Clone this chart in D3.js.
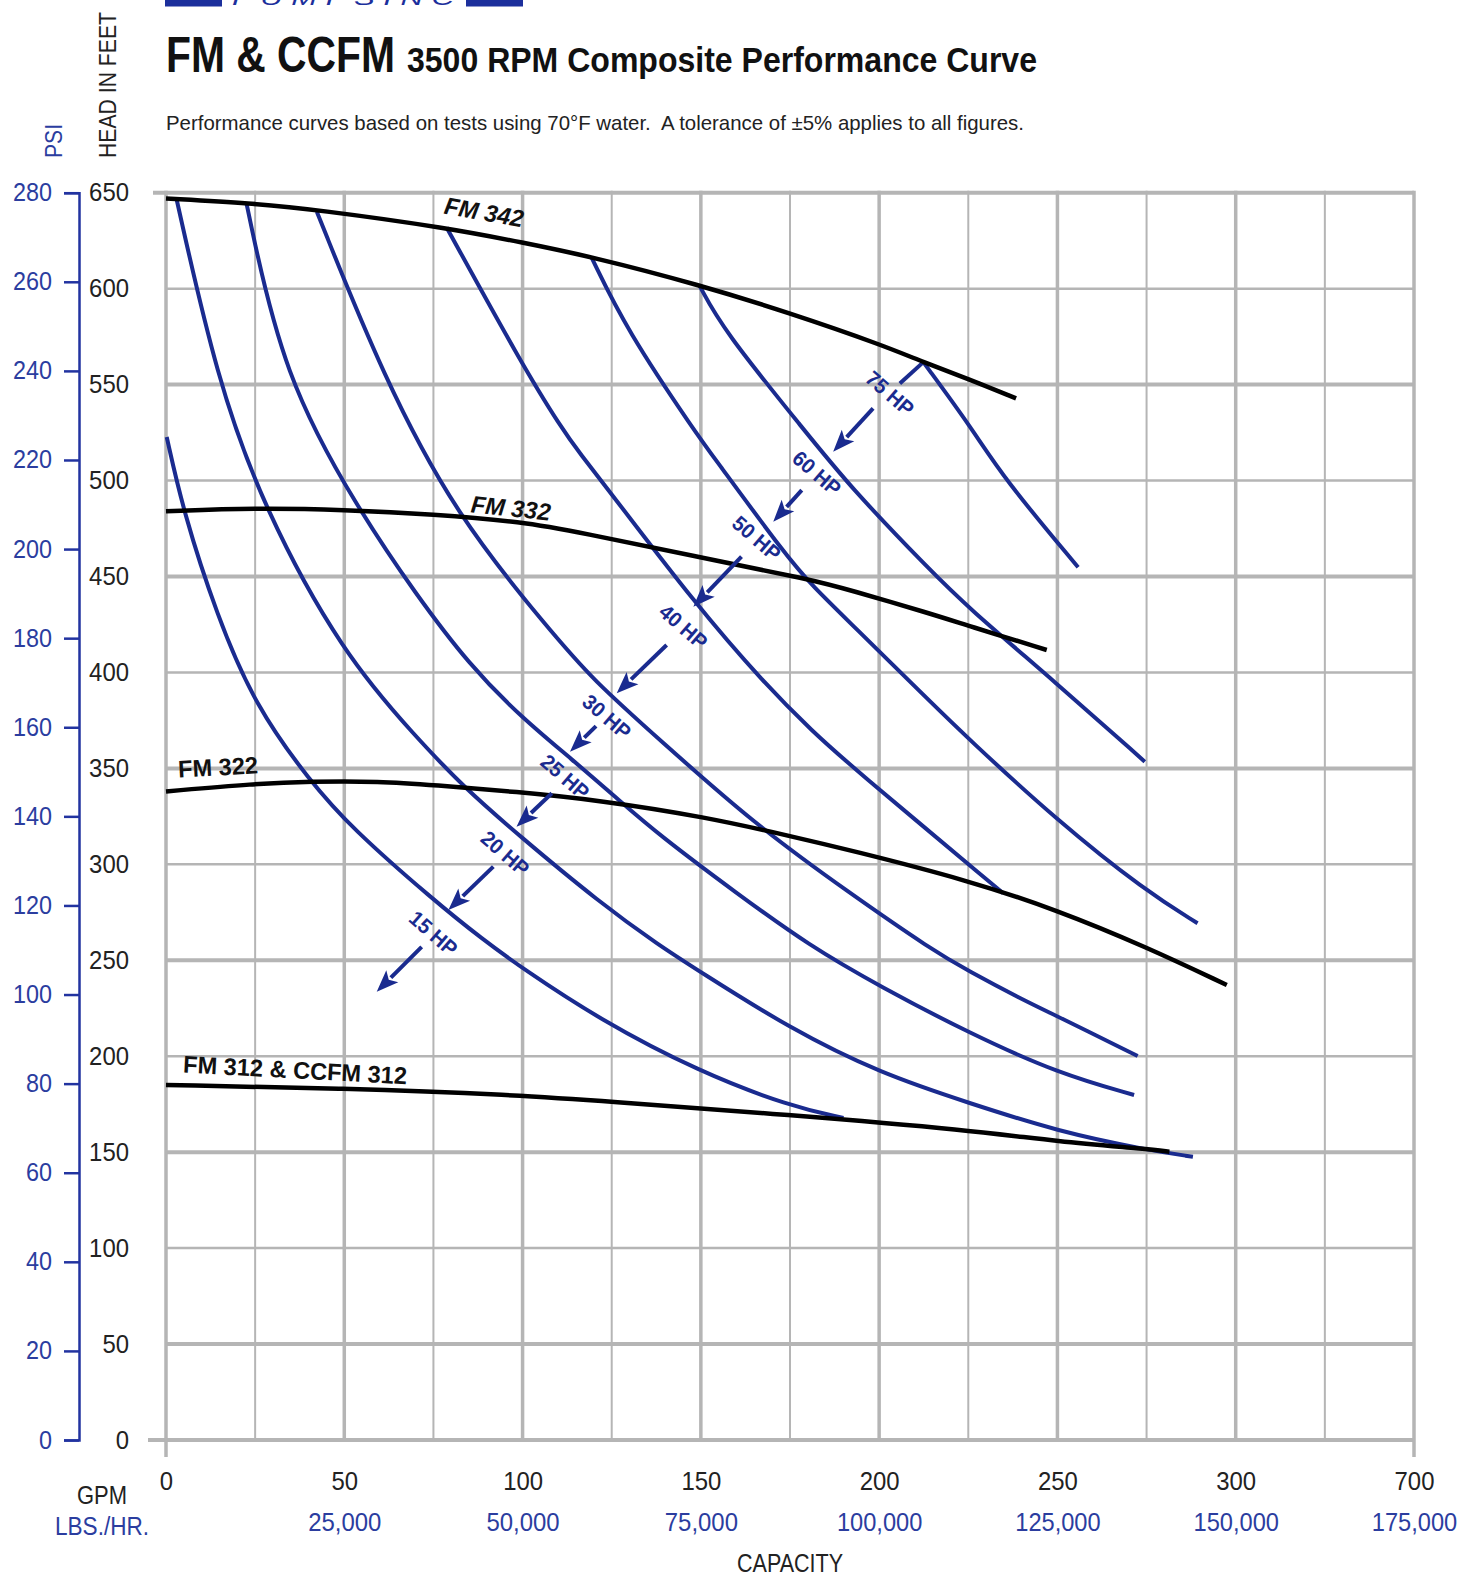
<!DOCTYPE html>
<html><head><meta charset="utf-8">
<script src="https://cdn.jsdelivr.net/npm/d3@7/dist/d3.min.js"></script>
<style>
body{margin:0;background:#fff;}
svg{display:block;}
</style></head><body>
<svg id="c" width="1473" height="1578"></svg>
<script>
// ---------------- data ----------------
const gpmTicks = [0, 50, 100, 150, 200, 250, 300, 350];
const gpmLabels = ["0", "50", "100", "150", "200", "250", "300", "700"];
const lbsTicks = [50, 100, 150, 200, 250, 300, 350];
const lbsLabels = ["25,000", "50,000", "75,000", "100,000", "125,000", "150,000", "175,000"];
const headTicks = [0, 50, 100, 150, 200, 250, 300, 350, 400, 450, 500, 550, 600, 650];
const psiTicks = [0, 20, 40, 60, 80, 100, 120, 140, 160, 180, 200, 220, 240, 260, 280];

// impeller curves  [GPM, head ft]
const impellerNames = ["FM 342", "FM 332", "FM 322", "FM 312 & CCFM 312"];
const fm342 = [[0,647],[24,644.5],[42,641.2],[79.5,631.5],[100,624],[119.5,616.6],[149.5,602],[174.6,587.5],[200.9,570.6],[212.4,561.7],[225,553],[238.4,542.8]];
const fm332 = [[0,484],[25,485.7],[49.8,484.8],[75,482.5],[100,478.5],[116,473],[148.8,460.3],[181.5,448.2],[191.8,442.9],[214.2,430.8],[224.7,424.5],[247,411.7]];
const fm322 = [[0,338],[25,342],[40.4,343.2],[60,343.3],[75,341.3],[98.3,337.8],[121.7,333.3],[151,324.8],[176.3,314.2],[191.8,307.4],[224.7,291.8],[249.8,276.2],[274.8,257],[297.5,237.1]];
const fm312 = [[0,185],[49.7,183.3],[98.3,179.8],[121.7,176.8],[174.9,169.4],[225.4,161.5],[250.3,155.4],[275.3,151.6],[281.4,150.2]];

// horsepower curves [GPM, head ft]
const hpNames = ["75 HP", "60 HP", "50 HP", "40 HP", "30 HP", "25 HP", "20 HP", "15 HP"];
const hp75 = [[212.4,561.7],[225.9,527.5],[234.8,501.5],[255.8,454.8]];
const hp60 = [[149.5,602],[156.3,578.4],[179,526.3],[191.8,496.8],[214.2,453.4],[224.7,434.2],[249.8,394.3],[274.5,353.5]];
const hp50 = [[119.4,616],[129.2,578.4],[148.9,524],[153.5,512.5],[174.1,460.3],[181.5,444.7],[191.8,426],[214.2,385],[224.7,366],[249.8,323],[274.8,286],[289.3,269.3]];
const hp40 = [[78.7,631.9],[100,560],[110.7,528],[116.1,514],[125.4,492],[147.9,437],[167.9,394],[181.5,369],[191.8,351.7],[234.8,284.9]];
const hp30 = [[42.3,640.1],[61,553.6],[81.5,481.5],[107.7,421.8],[119.8,396],[138.5,364.8],[165,321],[191.8,284.9],[214.9,255.3],[225,244.5],[240.4,229.3],[250.3,220.6],[272.5,200.1]];
const hp25 = [[22.6,644.2],[32.9,553.6],[54.4,483.6],[70,441],[85,404],[100,376],[113.7,355],[127.3,333],[138.5,315],[160,285],[180.5,257.5],[200.4,236.2],[225.4,211.9],[250.3,191],[271.5,179.8]];
const hp20 = [[3,646.3],[14.2,553.6],[27.3,485.7],[49.7,409.4],[70.3,366],[83.4,340.4],[99,315],[121.7,280],[138.5,257.5],[149.4,244.5],[174.9,214.5],[200.4,191],[225.4,175.5],[250.3,160.7],[275.3,151.1],[288,147.6]];
const hp15 = [[0.2,522.7],[4.9,483.6],[14.2,430],[25,382.6],[40.4,343.3],[52,319],[75,281.4],[89,260.6],[99.8,246],[121.7,219],[149.4,192],[174.9,174],[190,167.8]];

// annotations (data units)
const impLabelAt = [[89.2,639.9],[96.7,485.7],[14.6,350.7],[36.2,192.8]];
const impLabelAngle = [10, 6, -3, 3];
const hpTextAt = [[203,545.4],[182.5,503.8],[165.6,469.9],[145.1,423.8],[123.6,376.9],[111.9,345.6],[95.1,305.7],[75,264]];
const hpArrowFrom = [[198.3,537.6],[178.3,495],[161.4,460.3],[140.4,414.3],[120.6,372],[108.2,337],[91.8,298.8],[71.7,257]];
const hpArrowTo = [[187.1,515],[170.3,478.5],[147.9,434.2],[126.4,389.1],[113.3,358.7],[98.3,319.6],[79.2,276.2],[59.1,233.6]];
const hp75Connector = [[212.4,561.7],[205.8,550.6]];

// ---------------- drawing ----------------
const NARROW = "'Liberation Sans Narrow','Arial Narrow','Liberation Sans',Arial,sans-serif";
const BLUE = "#1a2b8f";
const BLUE_TXT = "#2b3d9f";
const GRID = "#b5b5b5";

const svg = d3.select("#c");
svg.append("rect").attr("width", 1473).attr("height", 1578).attr("fill", "#fff");

const x = d3.scaleLinear().domain([0, 350]).range([166, 1414]);
const y = d3.scaleLinear().domain([0, 650]).range([1440, 192.7]);
const yPsi = d3.scaleLinear().domain([0, 280]).range([1440, 192.7]);

// logo fragment at top
svg.append("rect").attr("x", 165).attr("y", -12).attr("width", 57).attr("height", 18.5).attr("fill", "#1c2f9c");
svg.append("rect").attr("x", 466).attr("y", -12).attr("width", 57).attr("height", 18.5).attr("fill", "#1c2f9c");
svg.append("text").attr("x", 232).attr("y", 5).attr("textLength", 222).attr("lengthAdjust", "spacingAndGlyphs")
  .style("font", "italic 20px " + NARROW).attr("fill", "#1c2f9c").text("P U M P S   I N C");

// title
svg.append("text").attr("x", 166).attr("y", 72).attr("textLength", 229).attr("lengthAdjust", "spacingAndGlyphs")
  .style("font", "bold 50px " + NARROW).attr("fill", "#111").text("FM & CCFM");
svg.append("text").attr("x", 407).attr("y", 72).attr("textLength", 630).attr("lengthAdjust", "spacingAndGlyphs")
  .style("font", "bold 35px " + NARROW).attr("fill", "#111").text("3500 RPM Composite Performance Curve");
svg.append("text").attr("x", 166).attr("y", 130).attr("textLength", 858).attr("lengthAdjust", "spacingAndGlyphs")
  .style("font", "21px " + NARROW).style("white-space", "pre").attr("fill", "#222")
  .text("Performance curves based on tests using 70°F water.  A tolerance of ±5% applies to all figures.");

// vertical axis titles
svg.append("text").attr("transform", "translate(116,158) rotate(-90)").attr("textLength", 146).attr("lengthAdjust", "spacingAndGlyphs")
  .style("font", "23px " + NARROW).attr("fill", "#222").text("HEAD IN FEET");
svg.append("text").attr("transform", "translate(62,158) rotate(-90)").attr("textLength", 34).attr("lengthAdjust", "spacingAndGlyphs")
  .style("font", "23px " + NARROW).attr("fill", BLUE_TXT).text("PSI");

// grid
const gridX = d3.range(0, 351, 25);
const gridY = d3.range(0, 651, 50);
const grid = svg.append("g");
grid.selectAll("line.h").data(gridY).join("line").attr("class", "h")
  .attr("x1", d => d === 0 ? x(0) - 18 : (d === 650 ? x(0) - 13 : x(0)))
  .attr("x2", x(350))
  .attr("y1", d => y(d)).attr("y2", d => y(d))
  .attr("stroke", GRID).attr("stroke-width", d => (d === 0 || d % 100 === 50) ? 4 : 2.5);
grid.selectAll("line.v").data(gridX).join("line").attr("class", "v")
  .attr("x1", d => x(d)).attr("x2", d => x(d))
  .attr("y1", y(650) - 2).attr("y2", d => (d === 0 || d === 350) ? y(0) + 17 : y(0))
  .attr("stroke", GRID).attr("stroke-width", d => d % 50 === 0 ? 3.5 : 2);

// PSI axis
const psiAxis = d3.axisLeft(yPsi).tickValues(psiTicks).tickSize(15).tickPadding(12);
const gPsi = svg.append("g").attr("transform", "translate(79,0)").call(psiAxis);
gPsi.select(".domain").attr("stroke", "#2233a0").attr("stroke-width", 2.5);
gPsi.selectAll(".tick line").attr("stroke", "#2233a0").attr("stroke-width", 2.5);
gPsi.selectAll(".tick text").attr("fill", BLUE_TXT).style("font", "25px " + NARROW)
  .attr("textLength", d => String(d).length * 13).attr("lengthAdjust", "spacingAndGlyphs");

// head axis (labels only)
const headAxis = d3.axisLeft(y).tickValues(headTicks).tickSize(0).tickPadding(0);
const gHead = svg.append("g").attr("transform", "translate(129,0)").call(headAxis);
gHead.select(".domain").remove();
gHead.selectAll(".tick text").attr("fill", "#222").style("font", "25px " + NARROW)
  .attr("textLength", d => String(d).length * 13.3).attr("lengthAdjust", "spacingAndGlyphs");

// GPM axis labels
const gpmAxis = d3.axisBottom(x).tickValues(gpmTicks).tickFormat((d, i) => gpmLabels[i]).tickSize(0).tickPadding(32);
const gGpm = svg.append("g").attr("transform", "translate(0,1440)").call(gpmAxis);
gGpm.select(".domain").remove();
gGpm.selectAll(".tick text").attr("fill", "#222").style("font", "25px " + NARROW)
  .attr("textLength", (d, i) => gpmLabels[i].length * 13.3).attr("lengthAdjust", "spacingAndGlyphs");

// LBS/HR axis labels
const lbsAxis = d3.axisBottom(x).tickValues(lbsTicks).tickFormat((d, i) => lbsLabels[i]).tickSize(0).tickPadding(73);
const gLbs = svg.append("g").attr("transform", "translate(0,1440)").call(lbsAxis);
gLbs.select(".domain").remove();
gLbs.selectAll(".tick text").attr("fill", BLUE_TXT).style("font", "25px " + NARROW)
  .attr("textLength", (d, i) => lbsLabels[i].length * 12.2).attr("lengthAdjust", "spacingAndGlyphs");

svg.append("text").attr("x", 102).attr("y", 1504).attr("text-anchor", "middle")
  .attr("textLength", 50).attr("lengthAdjust", "spacingAndGlyphs")
  .style("font", "25px " + NARROW).attr("fill", "#222").text("GPM");
svg.append("text").attr("x", 102).attr("y", 1535).attr("text-anchor", "middle")
  .attr("textLength", 94).attr("lengthAdjust", "spacingAndGlyphs")
  .style("font", "25px " + NARROW).attr("fill", BLUE_TXT).text("LBS./HR.");
svg.append("text").attr("x", 790).attr("y", 1572).attr("text-anchor", "middle")
  .attr("textLength", 106).attr("lengthAdjust", "spacingAndGlyphs")
  .style("font", "25px " + NARROW).attr("fill", "#222").text("CAPACITY");

// curves
const line = d3.line().x(d => x(d[0])).y(d => y(d[1])).curve(d3.curveBasis);
const hpSeries = [hp75, hp60, hp50, hp40, hp30, hp25, hp20, hp15];
const impSeries = [fm342, fm332, fm322, fm312];

svg.append("g").selectAll("path").data(hpSeries).join("path")
  .attr("d", line).attr("fill", "none").attr("stroke", BLUE).attr("stroke-width", 4)
  .attr("stroke-linecap", "butt");

svg.append("path").attr("d", d3.line().x(d => x(d[0])).y(d => y(d[1]))(hp75Connector))
  .attr("stroke", BLUE).attr("stroke-width", 4).attr("fill", "none");

svg.append("g").selectAll("path").data(impSeries).join("path")
  .attr("d", line).attr("fill", "none").attr("stroke", "#000").attr("stroke-width", 4.5)
  .attr("stroke-linecap", "butt");

// impeller labels
const impLabelWidth = [80, 80, 80, 224];
svg.append("g").selectAll("text").data(impellerNames).join("text")
  .attr("transform", (d, i) => `translate(${x(impLabelAt[i][0])},${y(impLabelAt[i][1])}) rotate(${impLabelAngle[i]})`)
  .attr("text-anchor", "middle").attr("dy", "0.35em")
  .attr("textLength", (d, i) => impLabelWidth[i]).attr("lengthAdjust", "spacingAndGlyphs")
  .style("font", (d, i) => (i < 2 ? "italic " : "") + "bold 24px " + NARROW)
  .attr("fill", "#111").text(d => d);

// HP arrows
const arrows = svg.append("g");
hpNames.forEach((name, i) => {
  const x1 = x(hpArrowFrom[i][0]), y1 = y(hpArrowFrom[i][1]);
  const x2 = x(hpArrowTo[i][0]), y2 = y(hpArrowTo[i][1]);
  const len = Math.hypot(x2 - x1, y2 - y1);
  const ux = (x2 - x1) / len, uy = (y2 - y1) / len;
  const headL = 22, headW = 8.5;
  const bx = x2 - ux * headL, by = y2 - uy * headL;
  arrows.append("line").attr("x1", x1).attr("y1", y1).attr("x2", bx + ux * 2).attr("y2", by + uy * 2)
    .attr("stroke", BLUE).attr("stroke-width", 4);
  arrows.append("path")
    .attr("d", `M${x2},${y2}L${bx - uy * headW},${by + ux * headW}L${bx + ux * 5},${by + uy * 5}L${bx + uy * headW},${by - ux * headW}Z`)
    .attr("fill", BLUE);
  arrows.append("text")
    .attr("transform", `translate(${x(hpTextAt[i][0])},${y(hpTextAt[i][1])}) rotate(41)`)
    .attr("text-anchor", "middle").attr("dy", "0.35em")
    .attr("textLength", 56).attr("lengthAdjust", "spacingAndGlyphs")
    .style("font", "bold 21px " + NARROW).attr("fill", BLUE).text(name);
});
</script>
</body></html>
